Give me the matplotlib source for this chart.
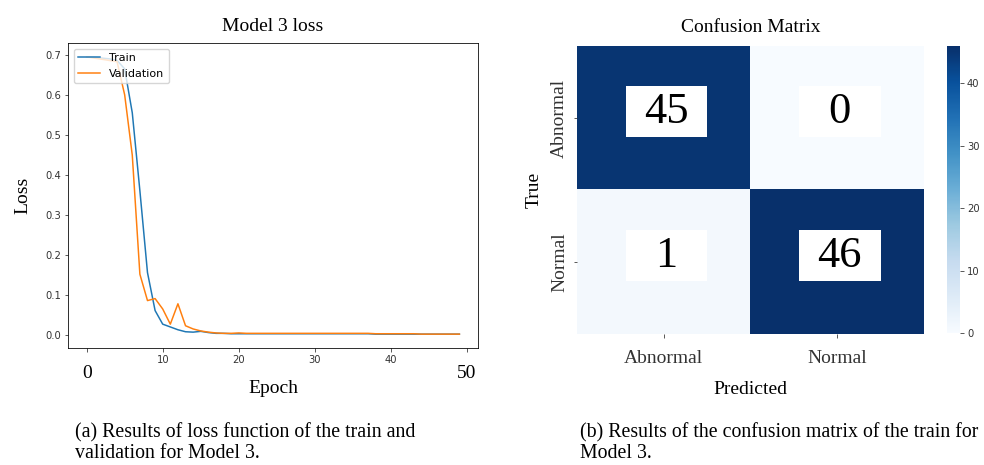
import matplotlib
matplotlib.use("Agg")
import matplotlib.pyplot as plt
import matplotlib.transforms as mtransforms
from matplotlib.patches import Rectangle
import numpy as np

# loss curves (epochs 0..49)
epochs = list(range(50))
train_loss = [0.695, 0.694, 0.692, 0.690, 0.686, 0.665, 0.555, 0.360, 0.155, 0.060,
              0.026, 0.019, 0.012, 0.007, 0.006, 0.008, 0.005, 0.003, 0.003, 0.002,
              0.002, 0.002, 0.002, 0.002, 0.002, 0.002, 0.002, 0.002, 0.002, 0.002,
              0.002, 0.002, 0.002, 0.002, 0.002, 0.002, 0.002, 0.002, 0.001, 0.001,
              0.001, 0.001, 0.001, 0.001, 0.001, 0.001, 0.001, 0.001, 0.001, 0.001]
val_loss = [0.695, 0.692, 0.689, 0.686, 0.683, 0.600, 0.449, 0.151, 0.085, 0.090,
            0.064, 0.026, 0.077, 0.022, 0.014, 0.009, 0.006, 0.004, 0.003, 0.003,
            0.004, 0.003, 0.003, 0.003, 0.003, 0.003, 0.003, 0.003, 0.003, 0.003,
            0.003, 0.003, 0.003, 0.003, 0.003, 0.003, 0.003, 0.003, 0.002, 0.002,
            0.002, 0.002, 0.002, 0.002, 0.001, 0.001, 0.001, 0.001, 0.001, 0.001]

# confusion matrix
classes = ["Abnormal", "Normal"]
cm = np.array([[45, 0],
               [1, 46]])

caption_a = "(a) Results of loss function of the train and\nvalidation for Model 3."
caption_b = "(b) Results of the confusion matrix of the train for\nModel 3."

SERIF = ["Liberation Serif", "DejaVu Serif"]
s = 0.72  # the plots look scaled down from default size

plt.rcParams["font.size"] = 10 * s
plt.rcParams["axes.linewidth"] = 0.8 * s
for a in ("xtick", "ytick"):
    plt.rcParams[a + ".major.size"] = 3.5 * s
    plt.rcParams[a + ".major.width"] = 0.8 * s
    plt.rcParams[a + ".major.pad"] = 3.5 * s
    plt.rcParams[a + ".color"] = "#333333"

fig = plt.figure(figsize=(9.84, 4.65), dpi=100)

# ---- left: loss
ax1 = fig.add_axes([0.0691, 0.2516, 0.4167, 0.6559])
ax1.plot(epochs, train_loss, color="#1f77b4", lw=1.5 * s, label="Train")
ax1.plot(epochs, val_loss, color="#ff7f0e", lw=1.5 * s, label="Validation")
ax1.set_xticks([0, 10, 20, 30, 40, 50])
ax1.set_xticklabels(["", "10", "20", "30", "40", ""])
ax1.set_yticks([0.0, 0.1, 0.2, 0.3, 0.4, 0.5, 0.6, 0.7])
ax1.legend(loc="upper left", fontsize=8)
ax1.set_title("Model 3 loss", family=SERIF, fontsize=14, pad=9)
ax1.set_ylabel("Loss", family=SERIF, fontsize=14, labelpad=10)
ax1.set_xlabel("Epoch", family=SERIF, fontsize=14, labelpad=11)
tr = mtransforms.blended_transform_factory(ax1.transData, ax1.transAxes)
for v in (0, 50):
    ax1.text(v, -0.085, str(v), transform=tr, family=SERIF, fontsize=14,
             ha="center", va="center")

# ---- right: confusion matrix
ax2 = fig.add_axes([0.5864, 0.2817, 0.3526, 0.6194])
im = ax2.imshow(cm, cmap="Blues", vmin=0, vmax=cm.max(), aspect="auto")
for i in range(cm.shape[0]):
    for j in range(cm.shape[1]):
        ax2.add_patch(Rectangle((j - 0.22, i - 0.22), 0.47, 0.35,
                                facecolor="white", edgecolor="none"))
        ax2.text(j + 0.015, i - 0.045, str(cm[i, j]), family=SERIF, fontsize=32,
                 ha="center", va="center", color="black")
ax2.set_xticks(range(len(classes)))
ax2.set_yticks(range(len(classes)))
ax2.set_xticklabels(classes, family=SERIF, fontsize=14)
ax2.set_yticklabels(classes, family=SERIF, fontsize=14, rotation=90, va="center")
ax2.tick_params(axis="x", pad=9)
ax2.tick_params(axis="y", pad=4)
for sp in ax2.spines.values():
    sp.set_visible(False)
ax2.set_title("Confusion Matrix", family=SERIF, fontsize=14, pad=10)
ax2.set_xlabel("Predicted", family=SERIF, fontsize=14, labelpad=10)
ax2.set_ylabel("True", family=SERIF, fontsize=14, labelpad=6)

cax = fig.add_axes([0.9624, 0.2839, 0.0132, 0.6172])
cb = fig.colorbar(im, cax=cax)
cb.outline.set_visible(False)
cb.set_ticks([0, 10, 20, 30, 40])
cax.tick_params(labelsize=10 * s)

# ---- captions
fig.text(0.0762, 0.047, caption_a, family=SERIF, fontsize=14.3,
         ha="left", va="center", linespacing=1.1)
fig.text(0.5894, 0.047, caption_b, family=SERIF, fontsize=14.3,
         ha="left", va="center", linespacing=1.1)

plt.savefig("out.png", dpi=100)
